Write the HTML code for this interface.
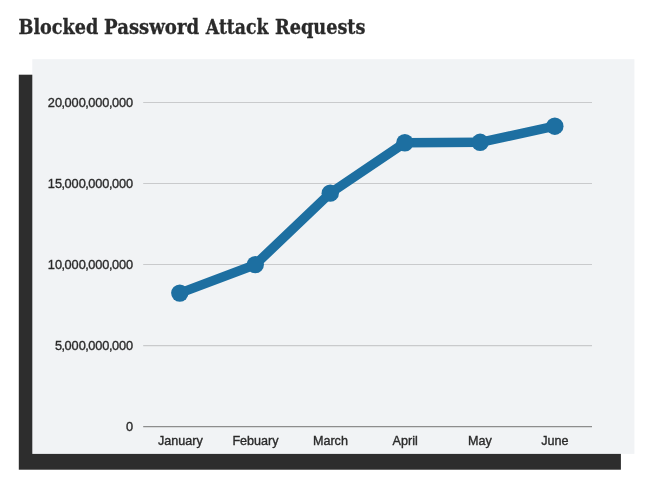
<!DOCTYPE html>
<html lang="en">
<head>
<meta charset="utf-8">
<title>Blocked Password Attack Requests</title>
<style>
  html, body { margin: 0; padding: 0; background: #ffffff; }
  body { width: 650px; height: 482px; position: relative; overflow: hidden; font-family: "Liberation Sans", sans-serif; }
  svg text.title { font-family: "DejaVu Serif Condensed", "DejaVu Serif", "Liberation Serif", serif; font-weight: bold; font-size: 20.5px; fill: #2a2a2a; stroke: #2a2a2a; stroke-width: 0.3px; }
  svg { position: absolute; left: 0; top: 0; }
  svg text { font-family: "Liberation Sans", sans-serif; font-size: 12.6px; fill: #2a2a2a; stroke: #2a2a2a; stroke-width: 0.35px; }
  svg .yl text { font-size: 12.75px; }
</style>
</head>
<body>
<svg width="650" height="482" viewBox="0 0 650 482">
  <rect x="18.8" y="74.7" width="602.1" height="395" fill="#2d2d2d"/>
  <rect x="32.3" y="59.2" width="602.1" height="394.7" fill="#f1f3f5"/>
  <g stroke="#c9cacc" stroke-width="1.2">
    <line x1="143.2" y1="102.5" x2="592" y2="102.5"/>
    <line x1="143.2" y1="183.5" x2="592" y2="183.5"/>
    <line x1="143.2" y1="264.5" x2="592" y2="264.5"/>
    <line x1="143.2" y1="345.55" x2="592" y2="345.55"/>
  </g>
  <line x1="143.2" y1="426.55" x2="592" y2="426.55" stroke="#8d8d8d" stroke-width="1.2"/>
  <text class="title" id="title" y="33.65"><tspan id="w1" x="18.5" textLength="79.8" lengthAdjust="spacingAndGlyphs">Blocked</tspan> <tspan id="w2" x="104.1" textLength="95" lengthAdjust="spacingAndGlyphs">Password</tspan> <tspan id="w3" x="205.8" textLength="62.8" lengthAdjust="spacingAndGlyphs">Attack</tspan> <tspan id="w4" x="275" textLength="90.5" lengthAdjust="spacingAndGlyphs">Requests</tspan></text>
  <g text-anchor="end" class="yl">
    <text x="133.2" y="107">20<tspan dx="-0.55">,</tspan><tspan dx="-0.55">000</tspan><tspan dx="-0.55">,</tspan><tspan dx="-0.55">000</tspan><tspan dx="-0.55">,</tspan><tspan dx="-0.55">000</tspan></text>
    <text x="133.2" y="188">15<tspan dx="-0.55">,</tspan><tspan dx="-0.55">000</tspan><tspan dx="-0.55">,</tspan><tspan dx="-0.55">000</tspan><tspan dx="-0.55">,</tspan><tspan dx="-0.55">000</tspan></text>
    <text x="133.2" y="269">10<tspan dx="-0.55">,</tspan><tspan dx="-0.55">000</tspan><tspan dx="-0.55">,</tspan><tspan dx="-0.55">000</tspan><tspan dx="-0.55">,</tspan><tspan dx="-0.55">000</tspan></text>
    <text x="133.2" y="350">5<tspan dx="-0.55">,</tspan><tspan dx="-0.55">000</tspan><tspan dx="-0.55">,</tspan><tspan dx="-0.55">000</tspan><tspan dx="-0.55">,</tspan><tspan dx="-0.55">000</tspan></text>
    <text x="133.2" y="431">0</text>
  </g>
  <g text-anchor="middle">
    <text x="180.4" y="444.6">January</text>
    <text x="255.5" y="444.6">Febuary</text>
    <text x="330.4" y="444.6">March</text>
    <text x="405.2" y="444.6">April</text>
    <text x="480" y="444.6">May</text>
    <text x="554.8" y="444.6">June</text>
  </g>
  <polyline fill="none" stroke="#1d6fa1" stroke-width="9.5" stroke-linejoin="round" stroke-linecap="round"
    points="179.8,293.1 255.3,264.6 330.25,193.15 404.85,142.75 480.15,142.3 554.8,126.2"/>
  <g fill="#1d6fa1">
    <circle cx="179.8" cy="293.1" r="8.7"/>
    <circle cx="255.3" cy="264.6" r="8.7"/>
    <circle cx="330.25" cy="193.15" r="8.7"/>
    <circle cx="404.85" cy="142.75" r="8.7"/>
    <circle cx="480.15" cy="142.3" r="8.7"/>
    <circle cx="554.8" cy="126.2" r="8.7"/>
  </g>
</svg>
</body>
</html>
